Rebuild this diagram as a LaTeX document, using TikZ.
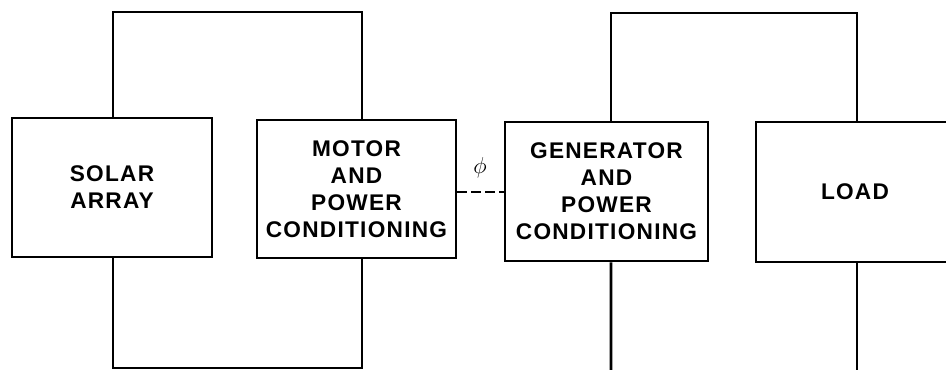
\documentclass[tikz,border=0pt]{standalone}
\usepackage{fontspec}
\newfontfamily\blockfont[LetterSpace=5.5]{Liberation Sans Bold}
\usetikzlibrary{calc}

\begin{document}
\begin{tikzpicture}[
  x=0.75pt, y=-0.75pt,
  block/.style={draw, line width=2.1pt, inner sep=0pt, align=center,
    font=\blockfont\fontsize{17}{20.25}\selectfont},
  wire/.style={line width=2.1pt},
  shaft/.style={line width=2.1pt, dash pattern=on 7.5pt off 3pt}
]
\useasboundingbox (0,0) rectangle (946,370);

% -----------------------------------------------------------------------------
% Blocks: solar array -> motor ... generator -> load.
% -----------------------------------------------------------------------------
\node[block, minimum width=150pt, minimum height=104.25pt] (solar) at (112,187.5) {SOLAR\\ARRAY};
\node[block, minimum width=149.25pt, minimum height=103.5pt] (motor) at (356.5,189) {MOTOR\\AND\\POWER\\CONDITIONING};
\node[block, minimum width=152.25pt, minimum height=104.25pt] (gen) at (606.5,191.5) {GENERATOR\\AND\\POWER\\CONDITIONING};
\node[block, minimum width=148.5pt, minimum height=105pt] (load) at (855,192) {LOAD};

% -----------------------------------------------------------------------------
% Wiring loops above and below each pair of blocks. The terminals sit a little
% right of the block centres, as drawn.
% -----------------------------------------------------------------------------
\coordinate (leftTop) at (237,12);
\coordinate (leftBottom) at (237,368);
\coordinate (rightTop) at (734,13);
\coordinate (genDown) at (611,372);
\coordinate (loadDown) at (857,372);

\draw[wire] ([xshift=0.75pt]solar.north) |- (leftTop) -| ([xshift=4.1pt]motor.north);
\draw[wire] ([xshift=0.75pt]solar.south) |- (leftBottom) -| ([xshift=4.1pt]motor.south);
\draw[wire] ([xshift=3.4pt]gen.north) |- (rightTop) -| ([xshift=1.5pt]load.north);
\draw[wire] ([xshift=3.4pt]gen.south) -- (genDown);
\draw[wire] ([xshift=1.5pt]load.south) -- (loadDown);

% shaft coupling between motor and generator
\draw[shaft] ($(motor.east)+(0,3)$) -- ($(motor.east -| gen.west)+(0,3)$);
\node[font=\fontsize{18}{20}\selectfont] (phi) at (480,168) {$\phi$};

\end{tikzpicture}
\end{document}
